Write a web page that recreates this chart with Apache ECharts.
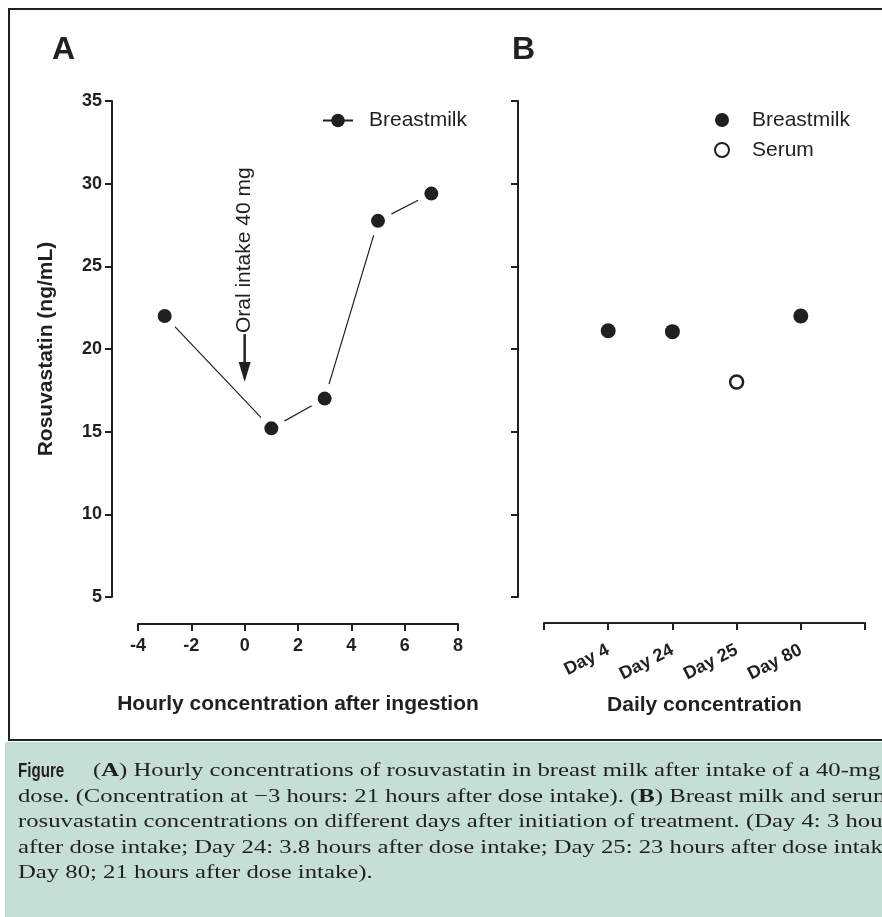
<!DOCTYPE html>
<html><head><meta charset="utf-8">
<script src="https://cdn.jsdelivr.net/npm/echarts@6/dist/echarts.min.js"></script>
<style>html,body{margin:0;padding:0;background:#fff}#c{width:882px;height:917px}</style>
</head><body><div id="c"></div>
<script>
// ---- data ----
const hours = [-3, 1, 3, 5, 7];
const breastmilkHourly = [22.0, 15.2, 17.0, 27.75, 29.4];
const dayLabels = ['Day 4', 'Day 24', 'Day 25', 'Day 80'];
const breastmilkDaily = [21.1, 21.05, null, 22.0];
const serumDaily = [null, null, 18.0, null];
const yMin = 5, yMax = 35, yStep = 5;
const xMinA = -4, xMaxA = 8, xStepA = 2;
const doseHour = 0;
const arrowTopValue = 20.9;
const arrowTipValue = 18.0;
const captionLines = [
  '({b|A}) Hourly concentrations of rosuvastatin in breast milk after intake of a 40-mg',
  'dose. (Concentration at \u22123 hours: 21 hours after dose intake). ({b|B}) Breast milk and serum',
  'rosuvastatin concentrations on different days after initiation of treatment. (Day 4: 3 hours',
  'after dose intake; Day 24: 3.8 hours after dose intake; Day 25: 23 hours after dose intake;',
  'Day 80; 21 hours after dose intake).'
];

const ink = '#231f20';
const sans = 'Liberation Sans, Arial, Helvetica, sans-serif';
const serif = 'Liberation Serif, Times New Roman, serif';

const chart = echarts.init(document.getElementById('c'), null, {renderer: 'canvas'});

const axisCommon = {
  axisLine: {show: true, onZero: false, lineStyle: {color: ink, width: 2}},
  axisTick: {show: true, length: 7, lineStyle: {color: ink, width: 2}},
  splitLine: {show: false},
  axisLabel: {color: ink, fontWeight: 'bold', fontSize: 18, fontFamily: sans},
  nameTextStyle: {color: ink, fontWeight: 'bold', fontSize: 21, fontFamily: sans}
};

const capScale = 1.30, capFont = 19;
const capY0 = 771, capDy = 25.6;
const captionGraphics = [
  {type: 'rect', z: 0, shape: {x: 5, y: 742, width: 877, height: 175}, style: {fill: '#c5dfd4'}},
  {type: 'text', z: 1, x: 18, y: capY0, scaleX: 0.72, style: {text: 'Figure', font: 'bold 21px "Liberation Sans", sans-serif', fill: ink, verticalAlign: 'middle'}}
].concat(captionLines.map((t, i) => ({
  type: 'text', z: 1, x: i === 0 ? 93 : 18, y: capY0 + i * capDy, scaleX: capScale,
  style: {text: t, fontSize: capFont, fontFamily: serif, fill: ink, verticalAlign: 'middle',
    rich: {b: {fontSize: capFont, fontFamily: serif, fontWeight: 'bold', fill: ink}}}
})));

const option = {
  animation: false,
  backgroundColor: '#fff',
  grid: [
    {left: 138, top: 101, width: 320, height: 496, outerBoundsMode: 'none'},
    {left: 544, top: 101, width: 321, height: 496, outerBoundsMode: 'none'}
  ],
  xAxis: [
    Object.assign({}, axisCommon, {
      gridIndex: 0, type: 'value', min: xMinA, max: xMaxA, interval: xStepA, offset: 27,
      name: 'Hourly concentration after ingestion', nameLocation: 'middle', nameGap: 70,
      axisLabel: Object.assign({}, axisCommon.axisLabel, {margin: 13})
    }),
    Object.assign({}, axisCommon, {
      gridIndex: 1, type: 'category', boundaryGap: false, data: [' '].concat(dayLabels, ['  ']), offset: 26,
      name: 'Daily concentration', nameLocation: 'middle', nameGap: 72,
      axisTick: {show: true, length: 7, interval: 0, lineStyle: {color: ink, width: 2}},
      axisLabel: Object.assign({}, axisCommon.axisLabel, {rotate: 27, interval: 0, margin: 26})
    })
  ],
  yAxis: [
    Object.assign({}, axisCommon, {
      gridIndex: 0, type: 'value', min: yMin, max: yMax, interval: yStep, offset: 26,
      name: 'Rosuvastatin (ng/mL)', nameLocation: 'middle', nameGap: 55,
      axisLabel: Object.assign({}, axisCommon.axisLabel, {margin: 10})
    }),
    Object.assign({}, axisCommon, {
      gridIndex: 1, type: 'value', min: yMin, max: yMax, interval: yStep, offset: 26,
      axisLabel: {show: false}
    })
  ],
  legend: [
    {
      data: ['Breastmilk'], left: 317, top: 105, itemWidth: 30, itemHeight: 17,
      itemStyle: {borderWidth: 0}, lineStyle: {width: 2},
      textStyle: {fontSize: 21, fontFamily: sans, color: ink, padding: [0, 0, 0, 11]},
      selectedMode: false
    },
    {
      data: ['Breastmilk (daily)', 'Serum'], orient: 'vertical', left: 709, top: 104,
      itemWidth: 14, itemHeight: 14, itemGap: 8,
      formatter: n => n.replace(' (daily)', ''),
      textStyle: {fontSize: 21, fontFamily: sans, color: ink, lineHeight: 22, padding: [0, 0, 0, 18]},
      selectedMode: false
    }
  ],
  series: [
    {
      name: 'Breastmilk', type: 'line', xAxisIndex: 0, yAxisIndex: 0,
      data: hours.map((h, i) => [h, breastmilkHourly[i]]),
      symbol: 'circle', symbolSize: 22,
      lineStyle: {color: ink, width: 1.2},
      itemStyle: {color: ink, borderColor: '#fff', borderWidth: 8},
      emphasis: {disabled: true}
    },
    {
      name: 'Breastmilk (daily)', type: 'scatter', xAxisIndex: 1, yAxisIndex: 1,
      data: dayLabels.map((d, i) => [d, breastmilkDaily[i]]).filter(p => p[1] != null),
      symbol: 'circle', symbolSize: 15,
      itemStyle: {color: ink, opacity: 1},
      emphasis: {disabled: true}
    },
    {
      name: 'Serum', type: 'scatter', xAxisIndex: 1, yAxisIndex: 1,
      data: dayLabels.map((d, i) => [d, serumDaily[i]]).filter(p => p[1] != null),
      symbol: 'circle', symbolSize: 13,
      itemStyle: {color: '#fff', borderColor: ink, borderWidth: 2.5, opacity: 1},
      emphasis: {disabled: true}
    }
  ],
  graphic: [
    {type: 'rect', z: 0, shape: {x: 9, y: 9, width: 900, height: 731}, style: {fill: 'none', stroke: ink, lineWidth: 2}},
    {type: 'text', x: 52, y: 50, style: {text: 'A', font: 'bold 32px ' + sans, fill: ink, verticalAlign: 'middle'}},
    {type: 'text', x: 512, y: 50, style: {text: 'B', font: 'bold 32px ' + sans, fill: ink, verticalAlign: 'middle'}}
  ].concat(captionGraphics)
};
chart.setOption(option);

// annotation: arrow at dose time
const pTop = chart.convertToPixel({xAxisIndex: 0, yAxisIndex: 0}, [doseHour, arrowTopValue]);
const pTip = chart.convertToPixel({xAxisIndex: 0, yAxisIndex: 0}, [doseHour, arrowTipValue]);
const headLen = 20, headHalf = 6;
const g = option.graphic.slice();
g.push(
  {type: 'line', shape: {x1: pTop[0], y1: pTop[1], x2: pTip[0], y2: pTip[1] - headLen + 2}, style: {stroke: ink, lineWidth: 2.5}},
  {type: 'polygon', shape: {points: [[pTip[0] - headHalf, pTip[1] - headLen], [pTip[0] + headHalf, pTip[1] - headLen], [pTip[0], pTip[1]]]}, style: {fill: ink}},
  {type: 'text', x: pTop[0], y: pTop[1] - 1, rotation: Math.PI / 2,
   style: {text: 'Oral intake 40 mg', fontSize: 21, fontFamily: sans, fill: ink, align: 'left', verticalAlign: 'middle'}}
);
chart.setOption({graphic: g}, {replaceMerge: ['graphic']});
</script></body></html>
